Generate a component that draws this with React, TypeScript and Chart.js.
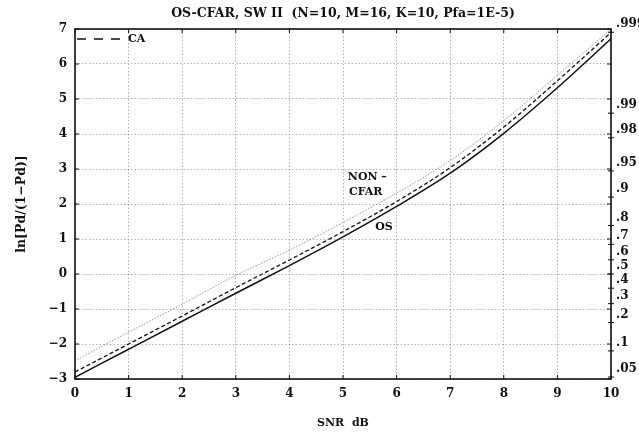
import React, { useEffect, useRef } from 'react';
import { Chart, registerables } from 'chart.js';

Chart.register(...registerables);

// ---- data ----
const snrDb = [0, 1, 2, 3, 4, 5, 6, 7, 8, 9, 10];
const osValues = [-2.95, -2.15, -1.35, -0.55, 0.24, 1.06, 1.93, 2.88, 4.02, 5.32, 6.72];
const caValues = [-2.8, -2.0, -1.2, -0.39, 0.4, 1.21, 2.07, 3.04, 4.2, 5.52, 6.9];
const nonCfarValues = [-2.48, -1.66, -0.86, -0.04, 0.68, 1.47, 2.31, 3.24, 4.38, 5.68, 7.0];

const xTickValues = [0, 1, 2, 3, 4, 5, 6, 7, 8, 9, 10];
const yTickValues = [-3, -2, -1, 0, 1, 2, 3, 4, 5, 6, 7];
const probLabels = ['.05', '.1', '.2', '.3', '.4', '.5', '.6', '.7', '.8', '.9', '.95', '.98', '.99', '.999'];
const probValues = [0.05, 0.1, 0.2, 0.3, 0.4, 0.5, 0.6, 0.7, 0.8, 0.9, 0.95, 0.98, 0.99, 0.999];

const titleText = 'OS-CFAR, SW II  (N=10, M=16, K=10, Pfa=1E-5)';
const xTitle = 'SNR  dB';
const yTitle = 'ln[Pd/(1\u2212Pd)]';

// curve label anchors in data units
const curveLabels = [
  { text: 'NON \u2013', x: 5.09, y: 2.78 },
  { text: 'CFAR', x: 5.11, y: 2.35 },
  { text: 'OS', x: 5.6, y: 1.35 },
];

const logit = (p: number) => Math.log(p / (1 - p));

const FONT = '"DejaVu Serif", "Liberation Serif", serif';
const INK = '#111111';

const decorPlugin = {
  id: 'decor',
  afterDraw(chart: any) {
    const { ctx, chartArea: a, scales } = chart;
    const xs = scales.x;
    const ys = scales.y;
    const line = (x1: number, y1: number, x2: number, y2: number) => {
      ctx.beginPath();
      ctx.moveTo(x1, y1);
      ctx.lineTo(x2, y2);
      ctx.stroke();
    };
    ctx.save();
    ctx.setLineDash([]);
    ctx.strokeStyle = INK;
    ctx.lineWidth = 1.6;
    ctx.strokeRect(a.left, a.top, a.right - a.left, a.bottom - a.top);

    ctx.lineWidth = 1;
    for (const v of xTickValues) {
      const px = xs.getPixelForValue(v);
      line(px, a.bottom, px, a.bottom - 4);
      line(px, a.top, px, a.top + 4);
    }
    for (const v of yTickValues) {
      const py = ys.getPixelForValue(v);
      line(a.left, py, a.left + 4, py);
      line(a.right, py, a.right - 4, py);
    }
    for (const p of probValues) {
      const py = ys.getPixelForValue(logit(p));
      line(a.right - 3, py, a.right + 3, py);
    }

    ctx.fillStyle = INK;
    ctx.textBaseline = 'middle';

    // title
    ctx.font = 'bold 12.5px ' + FONT;
    ctx.textAlign = 'center';
    ctx.fillText(titleText, (a.left + a.right) / 2, 14);

    // x title
    ctx.font = 'bold 11px ' + FONT;
    ctx.fillText(xTitle, (a.left + a.right) / 2, a.bottom + 44);

    // curve labels
    ctx.textAlign = 'left';
    for (const l of curveLabels) {
      ctx.fillText(l.text, xs.getPixelForValue(l.x), ys.getPixelForValue(l.y));
    }

    // legend
    ctx.fillText('CA', a.left + 53, a.top + 10);
    ctx.setLineDash([9, 8]);
    ctx.lineWidth = 1.4;
    line(a.left + 2, a.top + 10, a.left + 47, a.top + 10);
    ctx.setLineDash([]);

    // y title
    ctx.save();
    ctx.font = 'bold 12.5px ' + FONT;
    ctx.textAlign = 'center';
    ctx.translate(22, (a.top + a.bottom) / 2);
    ctx.rotate(-Math.PI / 2);
    ctx.fillText(yTitle, 0, 0);
    ctx.restore();

    ctx.restore();
  },
};

export default function App() {
  const canvasRef = useRef<HTMLCanvasElement | null>(null);

  useEffect(() => {
    if (!canvasRef.current) return;
    const gridColor = 'rgba(120,120,120,0.7)';
    const chart = new Chart(canvasRef.current, {
      type: 'line',
      data: {
        datasets: [
          {
            label: 'NON-CFAR',
            data: snrDb.map((x, i) => ({ x, y: nonCfarValues[i] })),
            borderColor: '#8a8a8a',
            borderWidth: 0.9,
            borderDash: [1.5, 1.5],
            pointRadius: 0,
            cubicInterpolationMode: 'monotone',
          },
          {
            label: 'CA',
            data: snrDb.map((x, i) => ({ x, y: caValues[i] })),
            borderColor: INK,
            borderWidth: 1.3,
            borderDash: [4, 2.5],
            pointRadius: 0,
            cubicInterpolationMode: 'monotone',
          },
          {
            label: 'OS',
            data: snrDb.map((x, i) => ({ x, y: osValues[i] })),
            borderColor: INK,
            borderWidth: 1.5,
            pointRadius: 0,
            cubicInterpolationMode: 'monotone',
          },
        ],
      },
      options: {
        animation: false,
        responsive: false,
        layout: { padding: { top: 29, left: 0, right: 0, bottom: 0 } },
        plugins: { legend: { display: false }, title: { display: false }, tooltip: { enabled: false } },
        scales: {
          x: {
            type: 'linear',
            min: 0,
            max: 10,
            afterBuildTicks: (s: any) => {
              s.ticks = xTickValues.map((v) => ({ value: v }));
            },
            afterFit: (s: any) => {
              s.height = 58;
            },
            grid: { color: gridColor, lineWidth: 0.8, drawTicks: false },
            border: { display: false, dash: [1.5, 2] },
            ticks: {
              padding: 8,
              color: INK,
              font: { family: FONT, size: 12, weight: 'bold' },
              maxRotation: 0,
            },
          },
          y: {
            type: 'linear',
            position: 'left',
            min: -3,
            max: 7,
            afterBuildTicks: (s: any) => {
              s.ticks = yTickValues.map((v) => ({ value: v }));
            },
            afterFit: (s: any) => {
              s.width = 75;
            },
            grid: { color: gridColor, lineWidth: 0.8, drawTicks: false },
            border: { display: false, dash: [1.5, 2] },
            ticks: {
              padding: 8,
              color: INK,
              font: { family: FONT, size: 12, weight: 'bold' },
              callback: (v: any) => String(v).replace('-', '\u2212'),
            },
          },
          y2: {
            type: 'linear',
            position: 'right',
            min: -3,
            max: 7,
            afterBuildTicks: (s: any) => {
              s.ticks = probValues.map((p) => ({ value: logit(p) }));
            },
            afterFit: (s: any) => {
              s.width = 28;
            },
            grid: { display: false, drawTicks: false, drawOnChartArea: false },
            border: { display: false },
            ticks: {
              autoSkip: false,
              padding: 5,
              labelOffset: -8,
              color: INK,
              font: { family: FONT, size: 12, weight: 'bold' },
              callback: (_v: any, i: number) => probLabels[i],
            },
          },
        },
      },
      plugins: [decorPlugin],
    } as any);
    return () => chart.destroy();
  }, []);

  return (
    <div style={{ position: 'fixed', left: 0, top: 0, width: 639, height: 437, background: '#fff' }}>
      <canvas ref={canvasRef} width={639} height={437} style={{ width: 639, height: 437 }} />
    </div>
  );
}
